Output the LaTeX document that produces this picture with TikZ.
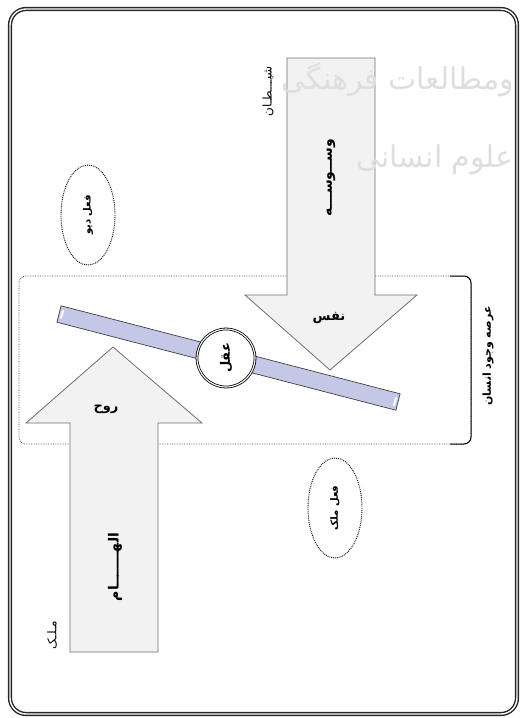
\documentclass[tikz,border=0pt]{standalone}
\usepackage{fontspec}
\newfontfamily\fa[Script=Arabic]{DejaVu Sans}
\TeXXeTstate=1
\usetikzlibrary{shapes.geometric}
\definecolor{arrowfill}{RGB}{242,242,242}
\definecolor{arrowedge}{RGB}{110,110,110}
\definecolor{barfill}{RGB}{196,200,230}
\definecolor{wm}{RGB}{222,222,222}
\tikzset{
  arrowshape/.style={fill=arrowfill, draw=arrowedge, line width=0.8pt},
  vlabel/.style={font=\fa\bfseries\fontsize{14}{14}\selectfont, rotate=90, inner sep=1pt},
  smalllabel/.style={font=\fa\fontsize{12}{12}\selectfont, rotate=90, inner sep=1pt},
  headlabel/.style={font=\fa\bfseries\fontsize{13}{13}\selectfont, inner sep=1pt},
  actell/.style={ellipse, draw, densely dotted, line width=0.9pt, rotate=90,
    minimum width=100pt, minimum height=54pt, inner sep=0pt,
    font=\fa\bfseries\fontsize{10}{10}\selectfont},
  watermark/.style={text=wm, font=\fa\fontsize{30}{30}\selectfont, anchor=east, inner sep=0pt},
}
\begin{document}
\begin{tikzpicture}[x=1pt,y=-1pt]
\useasboundingbox (0,0) rectangle (521,718);
% outer frame
\draw[line width=1.4pt, double=white, double distance=1.4pt, rounded corners=16pt, draw=black!85]
  (10,9) rectangle (517,714);
% arena (dotted box)
\draw[densely dotted, line width=0.7pt, rounded corners=7pt, draw=black!70] (19,276) rectangle (471,444);
\draw[line width=1pt, rounded corners=7pt] (450,276) -- (471,276) -- (471,444) -- (450,444);
% arrows
\draw[arrowshape] (287,58) -- (375,58) -- (375,295) -- (417,295) -- (330,370) -- (245,295) -- (287,295) -- cycle;
\draw[arrowshape] (70,652) -- (158,652) -- (158,423) -- (202,423) -- (113,347) -- (26,423) -- (70,423) -- cycle;
% watermark (faint, over the drawing)
\node[watermark] (wm1) at (514,80) {\beginR ومطالعات فرهنگی\endR};
\node[watermark] (wm2) at (514,160) {\beginR علوم انسانی\endR};
% balance bar
\draw[fill=barfill, draw=black!75, line width=0.7pt] (61.1,305.8) -- (400.1,393.8) -- (395.9,410.2) -- (56.9,322.2) -- cycle;
\draw[white, line width=2pt, line cap=round] (63,311) -- (61,318);
\draw[white, line width=2pt, line cap=round] (396,398) -- (394,405);
% intellect circle
\node[circle, draw, double, double distance=1.1pt, line width=0.8pt, fill=white, minimum size=58pt,
  font=\fa\bfseries\fontsize{13}{13}\selectfont, rotate=90] (aql) at (226,358) {\beginR عقل\endR};
% labels
\node[smalllabel] (satan) at (268,91) {\beginR شیـــطـان\endR};
\node[vlabel] (vasvase) at (331,178) {\beginR وســوســـه\endR};
\node[headlabel] (nafs) at (329,318) {\beginR نفس\endR};
\node[headlabel] (ruh) at (106,409) {\beginR روح\endR};
\node[vlabel] (elham) at (115,567) {\beginR الهـــــــام\endR};
\node[smalllabel] (malak) at (52,635) {\beginR مـلـک\endR};
\node[smalllabel, font=\fa\bfseries\fontsize{11}{11}\selectfont] (arena) at (488,356) {\beginR عرصه وجود انسان\endR};
% ellipses
\node[actell] (div) at (88,215) {\beginR فعل دیو\endR};
\node[actell] (mlk) at (335,508) {\beginR فعل ملک\endR};
\end{tikzpicture}
\end{document}
